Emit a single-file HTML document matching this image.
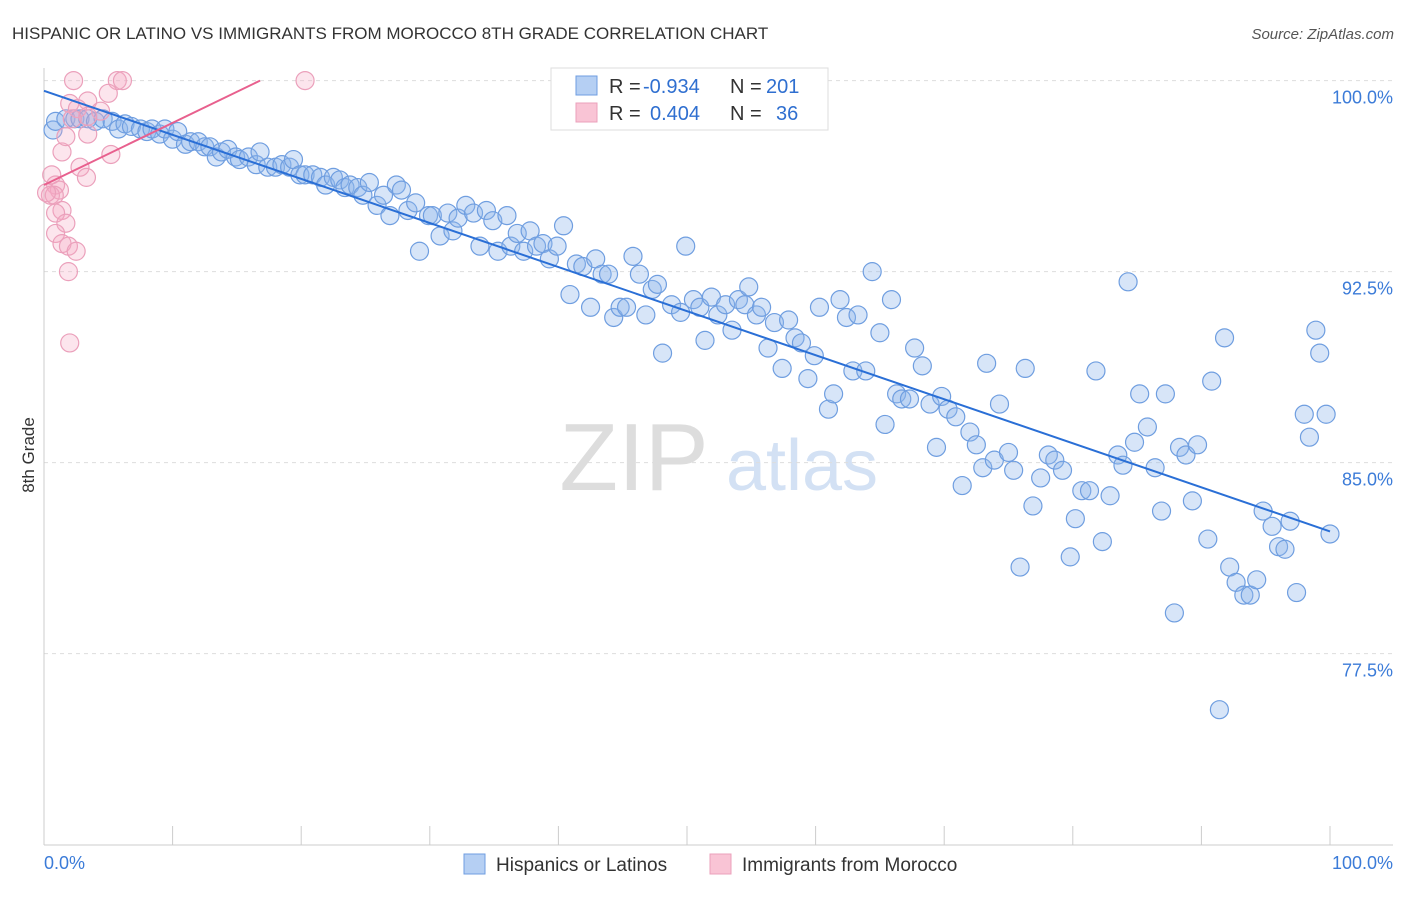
<!DOCTYPE html>
<html><head><meta charset="utf-8"><style>
body{margin:0;background:#fff;font-family:"Liberation Sans",sans-serif}
svg text{font-family:"Liberation Sans",sans-serif}
</style></head><body>
<svg id="chart" width="1406" height="892">
<text x="12" y="39" font-size="17" fill="#333">HISPANIC OR LATINO VS IMMIGRANTS FROM MOROCCO 8TH GRADE CORRELATION CHART</text>
<text x="1394" y="39" font-size="15" fill="#555" text-anchor="end" font-style="italic">Source: ZipAtlas.com</text>
<text x="34" y="455" font-size="17" fill="#333" text-anchor="middle" transform="rotate(-90 34 455)">8th Grade</text>
<g><text x="634" y="490" font-size="96" fill="#ddd" text-anchor="middle" font-family="Liberation Serif">ZIP</text><text x="802" y="490" font-size="72" fill="#d3e1f4" text-anchor="middle">atlas</text></g>
<g id="grid"></g><g id="axes"></g><g id="marks"></g>
<g>
<rect x="551" y="68" width="277" height="62" fill="#fff" stroke="#ddd"/>
<rect x="576" y="76" width="21" height="19" fill="#b5cff3" stroke="#6f9ee0"/>
<rect x="576" y="103" width="21" height="19" fill="#f9c4d5" stroke="#eba0bb"/>
<text x="609" y="93" font-size="20" fill="#333">R =</text>
<text x="643" y="93" font-size="20" fill="#2f6fd0">-0.934</text>
<text x="730" y="93" font-size="20" fill="#333">N =</text>
<text x="766" y="93" font-size="20" fill="#2f6fd0">201</text>
<text x="609" y="120" font-size="20" fill="#333">R =</text>
<text x="650" y="120" font-size="20" fill="#2f6fd0">0.404</text>
<text x="730" y="120" font-size="20" fill="#333">N =</text>
<text x="776" y="120" font-size="20" fill="#2f6fd0">36</text>
</g>
<g>
<rect x="464" y="854" width="21" height="20" fill="#b5cff3" stroke="#6f9ee0"/>
<text x="496" y="871" font-size="19" fill="#333">Hispanics or Latinos</text>
<rect x="710" y="854" width="21" height="20" fill="#f9c4d5" stroke="#eba0bb"/>
<text x="742" y="871" font-size="19" fill="#333">Immigrants from Morocco</text>
</g>
</svg>
<script>
const blueX=[0.7,0.9,1.7,2.4,2.8,3.4,4.0,4.6,5.3,5.8,6.3,6.8,7.5,8.0,8.4,9.0,9.4,10.0,10.4,11.0,11.4,12.0,12.5,12.9,13.4,13.8,14.3,14.9,15.2,15.9,16.5,16.8,17.4,18.0,18.5,19.1,19.4,19.9,20.3,20.9,21.5,21.9,22.5,23.0,23.4,23.8,24.4,24.8,25.3,25.9,26.4,26.9,27.4,27.8,28.3,28.9,29.2,29.9,30.2,30.8,31.4,31.8,32.2,32.8,33.4,33.9,34.4,34.9,35.3,36.0,36.3,36.8,37.3,37.8,38.3,38.8,39.3,39.9,40.4,40.9,41.4,41.9,42.5,42.9,43.4,43.9,44.3,44.8,45.3,45.8,46.3,46.8,47.3,47.7,48.1,48.8,49.5,49.9,50.5,51.0,51.4,51.9,52.4,53.0,53.5,54.0,54.5,54.8,55.4,55.8,56.3,56.8,57.4,57.9,58.4,58.9,59.4,59.9,60.3,61.0,61.4,61.9,62.4,62.9,63.3,63.9,64.4,65.0,65.4,65.9,66.3,66.7,67.3,67.7,68.3,68.9,69.4,69.8,70.3,70.9,71.4,72.0,72.5,73.0,73.3,73.9,74.3,75.0,75.4,75.9,76.3,76.9,77.5,78.1,78.6,79.2,79.8,80.2,80.7,81.3,81.8,82.3,82.9,83.5,83.9,84.3,84.8,85.2,85.8,86.4,86.9,87.2,87.9,88.3,88.8,89.3,89.7,90.5,90.8,91.4,91.8,92.2,92.7,93.3,93.8,94.3,94.8,95.5,96.0,96.5,96.9,97.4,98.0,98.4,98.9,99.2,99.7,100];
const blueY=[98.06,98.4,98.5,98.5,98.5,98.5,98.4,98.5,98.4,98.1,98.3,98.2,98.1,98.0,98.1,97.9,98.1,97.7,98.0,97.5,97.6,97.6,97.4,97.4,97.0,97.2,97.3,97.0,96.9,97.0,96.7,97.2,96.6,96.6,96.7,96.6,96.9,96.3,96.3,96.3,96.2,95.9,96.2,96.1,95.8,95.9,95.8,95.5,96.0,95.1,95.5,94.7,95.9,95.7,94.9,95.2,93.3,94.7,94.7,93.9,94.8,94.1,94.6,95.1,94.8,93.5,94.9,94.5,93.3,94.7,93.5,94.0,93.3,94.1,93.5,93.6,93.0,93.5,94.3,91.6,92.8,92.7,91.1,93.0,92.4,92.4,90.7,91.1,91.1,93.1,92.4,90.8,91.8,92.0,89.3,91.2,90.9,93.5,91.4,91.1,89.8,91.5,90.8,91.2,90.2,91.4,91.2,91.9,90.8,91.1,89.5,90.5,88.7,90.6,89.9,89.7,88.3,89.2,91.1,87.1,87.7,91.4,90.7,88.6,90.8,88.6,92.5,90.1,86.5,91.4,87.7,87.5,87.5,89.5,88.8,87.3,85.6,87.6,87.1,86.8,84.1,86.2,85.7,84.8,88.9,85.1,87.3,85.4,84.7,80.9,88.7,83.3,84.4,85.3,85.1,84.7,81.3,82.8,83.9,83.9,88.6,81.9,83.7,85.3,84.9,92.1,85.8,87.7,86.4,84.8,83.1,87.7,79.1,85.6,85.3,83.5,85.7,82.0,88.2,75.3,89.9,80.9,80.3,79.8,79.8,80.4,83.1,82.5,81.7,81.6,82.7,79.9,86.9,86.0,90.2,89.3,86.9,82.2];
const pinkX=[2.3,5.7,6.1,20.3,5.0,3.4,2.0,2.6,4.4,3.4,2.2,1.4,5.2,2.8,3.3,0.6,0.9,1.2,0.5,0.8,0.2,1.4,0.9,1.7,0.9,1.4,1.9,2.5,1.9,2.0,1.7,3.4];
const pinkY=[100,100,100,100,99.5,99.2,99.1,98.9,98.8,98.6,98.5,97.2,97.1,96.6,96.2,96.3,95.9,95.7,95.5,95.5,95.6,94.9,94.8,94.4,94.0,93.6,93.5,93.3,92.5,89.7,97.8,97.9];
const blueTrend=[99.6,82.3]; // y at x=0 and x=100
const pinkTrend=[95.9,0.244]; // intercept, slope
const yTicks=[100,92.5,85,77.5];
const yTickLabels=["100.0%","92.5%","85.0%","77.5%"];
const xTicks=[0,10,20,30,40,50,60,70,80,90,100];
const NS="http://www.w3.org/2000/svg";
const X=v=>44+v*12.86, Y=v=>80.6+(100-v)*25.47;
function mk(t,a,p){const e=document.createElementNS(NS,t);for(const k in a)e.setAttribute(k,a[k]);p.appendChild(e);return e;}
const grid=document.getElementById('grid'),axes=document.getElementById('axes'),marks=document.getElementById('marks');
yTicks.forEach((t,i)=>{
 const l=mk('line',{x1:44,x2:1393,y1:Y(t),y2:Y(t),stroke:'#ddd','stroke-dasharray':'4,4'},grid);
 
 
 const tx=mk('text',{x:1393,y:Y(t)+23,'font-size':18,fill:'#3b7bd8','text-anchor':'end'},axes);
 tx.textContent=yTickLabels[i];
 
 
});
const xa=mk('line',{x1:44,x2:1393,y1:845,y2:845,stroke:'#ccc'},axes);


const ya=mk('line',{x1:44,x2:44,y1:68,y2:845,stroke:'#ccc'},axes);


xTicks.forEach(t=>{
 const l=mk('line',{x1:X(t),x2:X(t),y1:826,y2:845,stroke:'#ccc'},axes);
 
 
});
const xl0=mk('text',{x:44,y:869,'font-size':18,fill:'#3b7bd8'},axes);xl0.textContent='0.0%';


const xl1=mk('text',{x:1393,y:869,'font-size':18,fill:'#3b7bd8','text-anchor':'end'},axes);xl1.textContent='100.0%';


blueX.forEach((x,i)=>{
 const c=mk('circle',{cx:X(x),cy:Y(blueY[i]),r:9,fill:'rgba(140,180,235,0.35)',stroke:'#6f9ee0','stroke-width':1.2},marks);
 
 
});
pinkX.forEach((x,i)=>{
 const c=mk('circle',{cx:X(x),cy:Y(pinkY[i]),r:9,fill:'rgba(245,170,195,0.3)',stroke:'#eba0bb','stroke-width':1.2},marks);
 
 
});
const bt=mk('line',{x1:X(0),y1:Y(blueTrend[0]),x2:X(100),y2:Y(blueTrend[1]),stroke:'#2a6fd6','stroke-width':2},marks);


const pxEnd=(100-pinkTrend[0])/pinkTrend[1];
const pt=mk('line',{x1:X(0),y1:Y(pinkTrend[0]),x2:X(pxEnd),y2:Y(100),stroke:'#e8608e','stroke-width':2},marks);


</script>
</body></html>
